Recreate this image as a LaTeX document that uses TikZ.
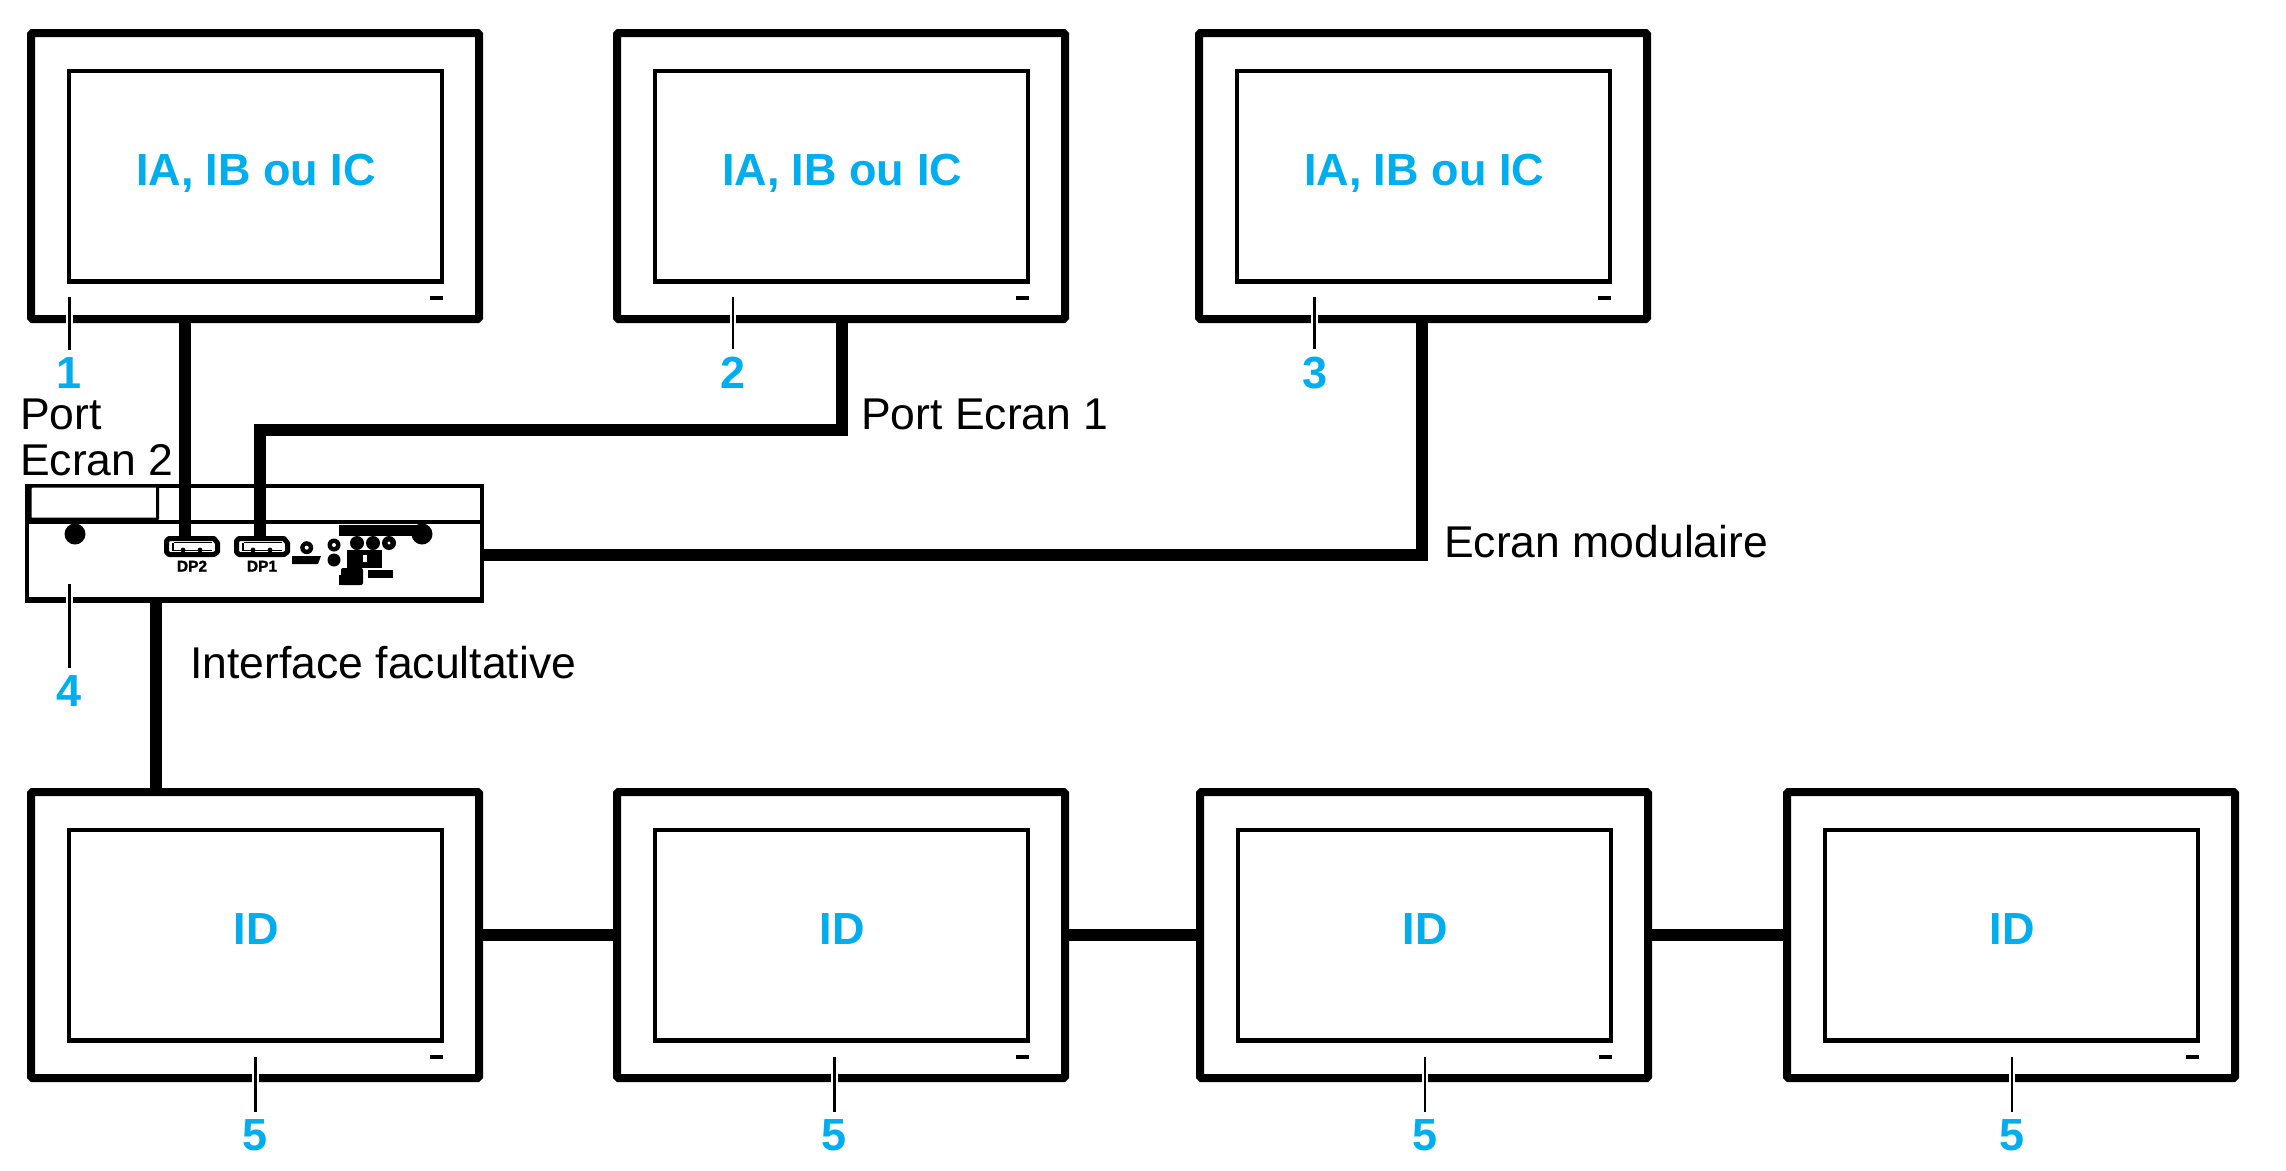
\documentclass[tikz,border=0pt]{standalone}
\usepackage{fontspec}
\setmainfont{Liberation Sans}
\newfontfamily\blobfont[FakeBold=1.6]{Liberation Sans Bold}
\usetikzlibrary{calc}
\definecolor{sblue}{HTML}{00AEEF}
\tikzset{
  x=1pt,y=-1pt,
  bezel/.style={draw=black,line width=8pt,minimum width=448pt,minimum height=286pt,inner sep=0pt,outer sep=0pt,rounded corners=1.5pt},
  screen/.style={draw=black,line width=4.5pt,minimum width=373pt,minimum height=210.5pt,inner sep=0pt,outer sep=0pt},
  cable/.style={draw=black,line width=12pt,line cap=butt,line join=miter},
  leader/.style={draw=black,line width=2.6pt,preaction={draw=white,line width=6.5pt}},
  blue/.style={text=sblue,font=\fontsize{45}{50}\selectfont\bfseries,inner sep=0pt,anchor=base},
  txt/.style={text=black,font=\fontsize{44.5}{46}\selectfont,inner sep=0pt,anchor=base west},
  tiny/.style={text=black,font=\fontsize{15.5}{15}\blobfont,inner sep=0pt,anchor=base},
}
\newcommand{\monitorbox}[4]{%
  \node[bezel] (#1) at (#2,#3) {};
  \node[screen] (#1s) at (#2+0.5,#3) {};
  \node[blue] (#1t) at (#2+1,#3+9) {#4};
  \fill[black] (#2+175,#3+120) rectangle (#2+188,#3+124);
}
\newcommand{\portshape}[3]{%
  \begin{scope}[shift={(#1,#2)}]
    \draw[black,fill=white,line width=5pt,line join=round] (5,2.5) -- (50,2.5) -- (53.5,7) -- (53.5,16) -- (50,18.5) -- (5,18.5) -- (2.5,16) -- (2.5,5) -- cycle;
    \draw[black,line width=1.7pt] (10,6.5) -- (48,6.5);
    \draw[black,line width=1.7pt] (9,6.5) -- (9,14.5) -- (48,14.5);
    \fill[black] (19,14) circle (2.4);
    \fill[black] (36,14) circle (2.4);
    \node[tiny] (#3) at (28,35.5) {#3};
  \end{scope}
}
\begin{document}
\begin{tikzpicture}
\useasboundingbox (0,0) rectangle (2286,1170);
\fill[white] (0,0) rectangle (2286,1170);
% device
\node[draw=black,line width=4pt,minimum width=455pt,minimum height=115pt,inner sep=0pt,outer sep=0pt] (dev) at (254.5,543) {};
\fill[black] (25,597) rectangle (484,603);
\coordinate (div) at (dev.west |- 0,522);
\draw[black,line width=4pt] (div) -- (div -| dev.east);
\draw[black,line width=3pt,fill=white,line join=round] (32,486) -- (157.5,486) -- (157.5,519) -- (30,519) -- (30,488) -- cycle;
\fill[black] (75,534) circle (10.5);
\fill[black] (422,534) circle (10.5);
% monitors
\monitorbox{a}{255}{176}{IA, IB ou IC}
\monitorbox{b}{841}{176}{IA, IB ou IC}
\monitorbox{c}{1423}{176}{IA, IB ou IC}
\monitorbox{d}{255}{935}{ID}
\monitorbox{e}{841}{935}{ID}
\monitorbox{f}{1424}{935}{ID}
\monitorbox{g}{2011}{935}{ID}
% cables
\coordinate (p2) at (185,540);
\coordinate (p1) at (260,540);
\coordinate (bend1) at (842,430);
\coordinate (bend3) at (1422,555);
\coordinate (downx) at (156,603);
\draw[cable] (a.south -| p2) -- (p2);
\draw[cable] (b.south -| bend1) -- (bend1) -- (bend1 -| p1) -- (p1);
\draw[cable] (c.south -| bend3) -- (bend3) -- (bend3 -| dev.east);
\draw[cable] (downx) -- (downx |- d.north);
\draw[cable] (d.east) -- (e.west);
\draw[cable] (e.east) -- (f.west);
\draw[cable] (f.east) -- (g.west);
% ports
\portshape{164}{536}{DP2}
\portshape{234}{536}{DP1}
% remaining panel details
\fill[black] (306.7,547.7) circle (6.5);
\fill[white] (306.7,547.7) circle (2);
\fill[black] (292,556) -- (321,556) -- (318,564) -- (292,564) -- cycle;
\fill[black] (334,545) circle (6.5);
\fill[white] (334,545) circle (2);
\fill[black] (334,560) circle (6.5);
\fill[black] (339,525) rectangle (417,535.5);
\foreach \xx in {357,373,389}{\fill[black] (\xx,543) circle (7);}
\fill[white] (389,543) circle (1.7);
\fill[black] (347,550) rectangle (382,568);
\fill[white] (363,555) rectangle (367,562);
\fill[black] (368,570) rectangle (393,578);
\fill[black,rounded corners=2pt] (341,568) rectangle (363,585);
\fill[black] (339,575) rectangle (360,585);
% numbers and leaders
\node[blue] (n1) at (69.5,388) {1};
\node[blue] (n2) at (733,388) {2};
\node[blue] (n3) at (1314.5,388) {3};
\node[blue] (n4) at (69.5,706) {4};
\node[blue] (n5) at (255.5,1150) {5};
\node[blue] (n6) at (834.5,1150) {5};
\node[blue] (n7) at (1425,1150) {5};
\node[blue] (n8) at (2012,1150) {5};
\foreach \n/\ys in {n1/297,n2/297,n3/297,n4/584,n5/1057,n6/1057,n7/1057,n8/1057}{
  \coordinate (top) at (\n.north |- 0,\ys);
  \draw[leader,shorten >=7pt] (top) -- (\n.north);
}
% labels
\node[txt] (t1) at (20,429) {Port};
\node[txt] (t2) at (20,475) {Ecran 2};
\node[txt] (t3) at (861,429) {Port Ecran 1};
\node[txt] (t4) at (1444,557) {Ecran modulaire};
\node[txt] (t5) at (190,678) {Interface facultative};
\end{tikzpicture}
\end{document}
